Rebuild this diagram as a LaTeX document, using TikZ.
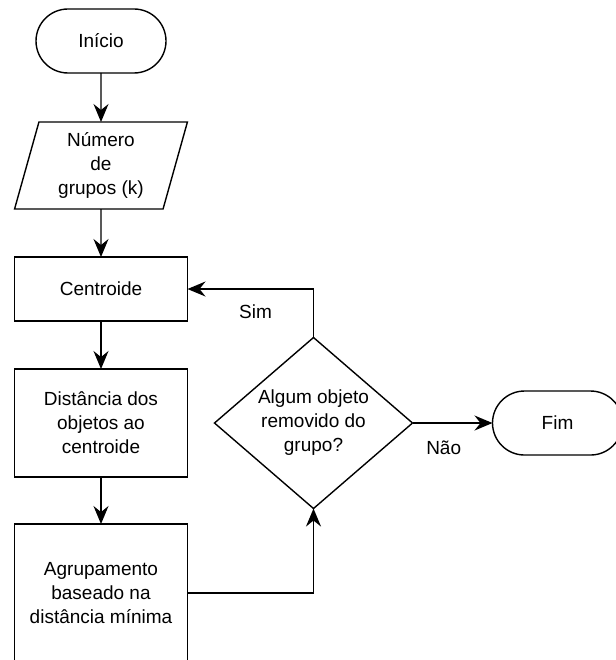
\documentclass[tikz,border=0pt]{standalone}
\usepackage{fontspec}
\setmainfont{Liberation Sans}
\usetikzlibrary{shapes.geometric, arrows.meta, positioning}

\begin{document}
\begin{tikzpicture}[
  x=1pt, y=-1pt,
  node distance=48pt and 27pt,
  every node/.style={font=\fontsize{19}{24}\selectfont},
  term/.style={rectangle, draw, line width=1.4pt, outer sep=0pt, rounded corners=32pt, minimum width=130pt, minimum height=64pt},
  io/.style={trapezium, draw, line width=1.4pt, outer sep=0pt, trapezium left angle=76, trapezium right angle=104, trapezium stretches=true, minimum width=173pt, minimum height=87pt, align=center},
  proc/.style={rectangle, draw, line width=1.4pt, outer sep=0pt, minimum width=173pt, minimum height=64pt, align=center},
  decide/.style={diamond, draw, line width=1.4pt, outer sep=0pt, aspect=1.2, inner sep=0pt, minimum width=198pt, minimum height=171pt, align=center},
  arrow/.style={-{Stealth[length=18pt, width=15pt, inset=6pt]}, line width=1.4pt}
]
  \useasboundingbox (0,0) rectangle (615,660);

  % Main column
  \node[term] (start) at (101,41) {Início};
  \node[io, below=49pt of start] (groups) {Número\\de\\grupos (k)};
  \node[proc, below=of groups] (centroid) {Centroide};
  \node[proc, below=of centroid, minimum height=108pt] (dist) {Distância dos\\objetos ao\\centroide};
  \node[proc, below=47pt of dist, minimum height=138pt] (assign) {Agrupamento\\baseado na\\distância mínima};
  \draw[arrow] (start) -- (groups);
  \draw[arrow] (groups) -- (centroid);
  \draw[arrow] (centroid) -- (dist);
  \draw[arrow] (dist) -- (assign);

  % Loop test
  \node[decide, right=of dist] (moved) {Algum objeto\\removido do\\grupo?};
  \node[term, right=80pt of moved] (stop) {Fim};
  \draw[arrow] (assign.east) -| (moved.south);
  \draw[arrow] (moved.north) |- node[pos=0.73, below=12pt] (yes) {Sim} (centroid.east);
  \draw[arrow] (moved.east) -- node[pos=0.39, below=14pt] (no) {Não} (stop.west);
\end{tikzpicture}
\end{document}
